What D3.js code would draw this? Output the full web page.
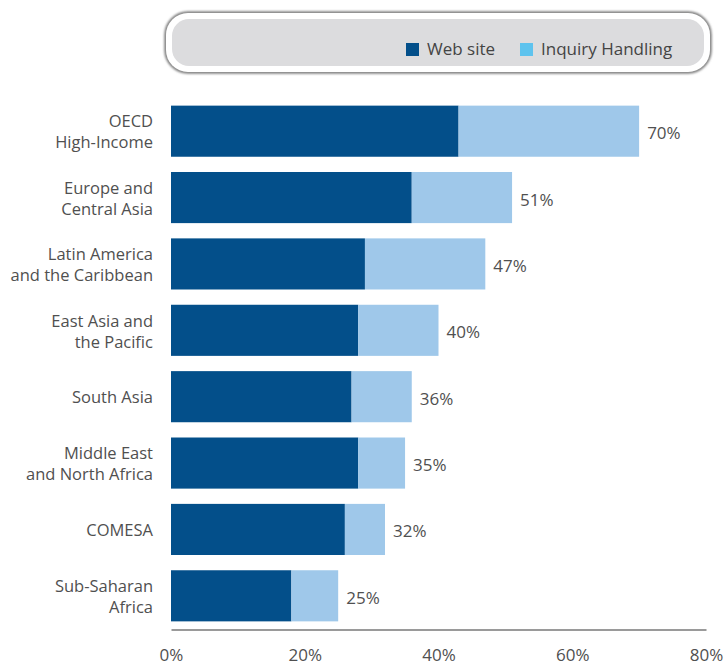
<!DOCTYPE html>
<html>
<head>
<meta charset="utf-8">
<script src="https://cdn.jsdelivr.net/npm/d3@7"></script>
<style>
  html, body { margin: 0; padding: 0; background: #ffffff; }
  svg { display: block; }
  text { font-family: "Open Sans", "Noto Sans", sans-serif; }
</style>
</head>
<body>
<svg id="chart" width="726" height="668"></svg>
<script>
// Regions (top to bottom); "\n" marks a line break in the label
const categories = [
  "OECD\nHigh-Income",
  "Europe and\nCentral Asia",
  "Latin America\nand the Caribbean",
  "East Asia and\nthe Pacific",
  "South Asia",
  "Middle East\nand North Africa",
  "COMESA",
  "Sub-Saharan\nAfrica"
];

// Share of agencies offering each service (%)
const webSite         = [43, 36, 29, 28, 27, 28, 26, 18];
const inquiryHandling = [27, 15, 18, 12,  9,  7,  6,  7];

const seriesNames = ["Web site", "Inquiry Handling"];
const xTicks = [0, 20, 40, 60, 80];

const W = 726, H = 668;
const margin = { left: 171, right: 20, top: 98, bottom: 39 };

const colors = {
  web: "#034f8a",
  inquiry: "#9fc8ea",
  inquiryKey: "#5ec3ee",
  text: "#505050"
};

const rows = categories.map((c, i) => ({
  name: c,
  web: webSite[i],
  inquiry: inquiryHandling[i],
  total: webSite[i] + inquiryHandling[i]
}));

const svg = d3.select("#chart");

const x = d3.scaleLinear().domain([0, 80]).range([margin.left, 706]);
const y = d3.scaleBand()
  .domain(categories)
  .range([margin.top, H - margin.bottom])
  .paddingInner(0.23)
  .paddingOuter(0.115);

// ---- legend panel ----
const defs = svg.append("defs");
defs.append("filter").attr("id", "soft")
  .attr("x", "-5%").attr("y", "-30%").attr("width", "110%").attr("height", "160%")
  .append("feGaussianBlur").attr("stdDeviation", 1.3);

const legend = svg.append("g");
legend.append("rect")
  .attr("x", 166).attr("y", 13).attr("width", 544).attr("height", 59)
  .attr("rx", 22).attr("ry", 22)
  .attr("fill", "#ffffff").attr("stroke", "#7e7e7e").attr("stroke-width", 3.5)
  .attr("filter", "url(#soft)");
legend.append("rect")
  .attr("x", 166).attr("y", 13).attr("width", 544).attr("height", 59)
  .attr("rx", 22).attr("ry", 22)
  .attr("fill", "#ffffff");
legend.append("rect")
  .attr("x", 172).attr("y", 19).attr("width", 532).attr("height", 47)
  .attr("rx", 17).attr("ry", 17)
  .attr("fill", "#dcdcde");

const keyItems = [
  { name: seriesNames[0], color: colors.web, x: 406 },
  { name: seriesNames[1], color: colors.inquiryKey, x: 520 }
];
const key = legend.selectAll("g.key").data(keyItems).enter().append("g")
  .attr("class", "key")
  .attr("transform", d => `translate(${d.x},43)`);
key.append("rect").attr("width", 13).attr("height", 13).attr("fill", d => d.color);
key.append("text")
  .attr("x", 21).attr("y", 6).attr("dy", "0.35em")
  .attr("font-size", 17).attr("fill", "#444")
  .text(d => d.name);

// ---- bars ----
const bars = svg.append("g");
const row = bars.selectAll("g.row").data(rows).enter().append("g").attr("class", "row");

row.append("rect")
  .attr("x", x(0))
  .attr("y", d => y(d.name))
  .attr("width", d => x(d.web) - x(0))
  .attr("height", y.bandwidth())
  .attr("fill", colors.web);

row.append("rect")
  .attr("x", d => x(d.web))
  .attr("y", d => y(d.name))
  .attr("width", d => x(d.total) - x(d.web))
  .attr("height", y.bandwidth())
  .attr("fill", colors.inquiry);

// total labels
row.append("text")
  .attr("x", d => x(d.total) + 8)
  .attr("y", d => y(d.name) + y.bandwidth() / 2 + 2)
  .attr("dy", "0.35em")
  .attr("font-size", 17)
  .attr("fill", colors.text)
  .text(d => d.total + "%");

// category labels
const lineGap = 21;
row.append("text")
  .attr("text-anchor", "end")
  .attr("font-size", 16.5)
  .attr("fill", colors.text)
  .each(function(d) {
    const lines = d.name.split("\n");
    const cy = y(d.name) + y.bandwidth() / 2 + 1;
    const t = d3.select(this);
    lines.forEach((ln, i) => {
      t.append("tspan")
        .attr("x", 153)
        .attr("y", cy + (i - (lines.length - 1) / 2) * lineGap)
        .attr("dy", "0.35em")
        .text(ln);
    });
  });

// ---- x axis ----
const axis = svg.append("g")
  .attr("transform", `translate(0,${H - margin.bottom + 0.5})`)
  .call(d3.axisBottom(x)
    .tickValues(xTicks)
    .tickSize(0)
    .tickSizeOuter(0)
    .tickPadding(19)
    .tickFormat(d => d + "%"));
axis.select(".domain").attr("stroke", "#9a9a9a").attr("stroke-width", 2.2);
axis.selectAll("text")
  .attr("font-family", "\"Open Sans\", \"Noto Sans\", sans-serif")
  .attr("font-size", 17)
  .attr("fill", colors.text);
</script>
</body>
</html>
